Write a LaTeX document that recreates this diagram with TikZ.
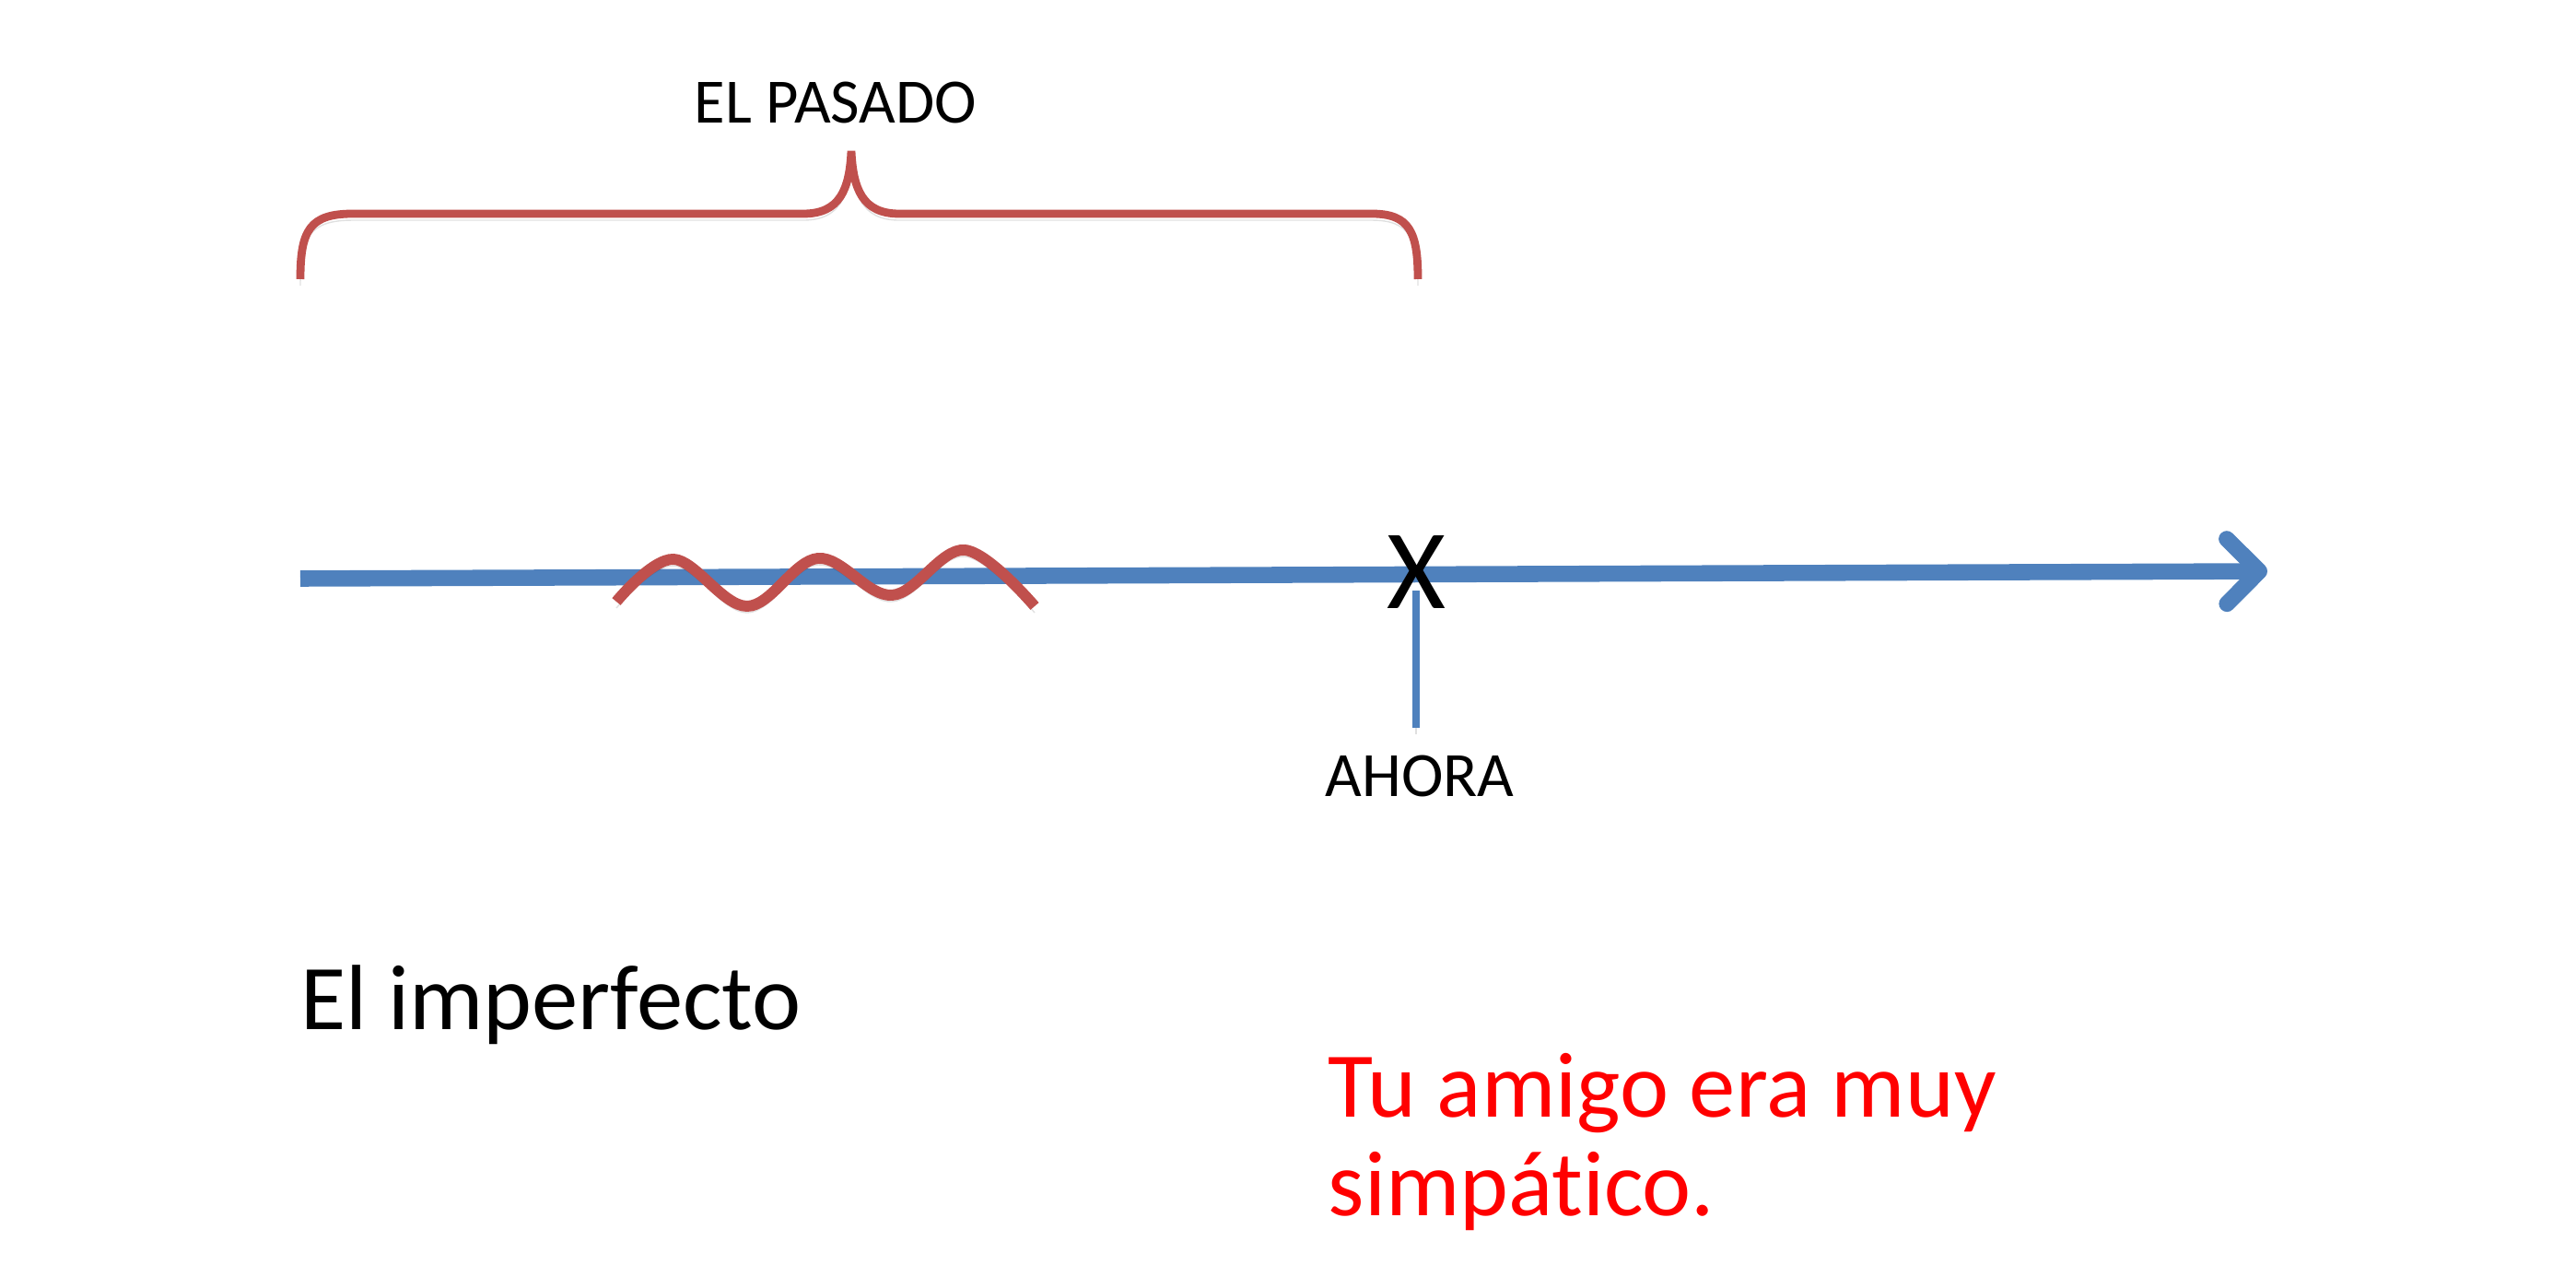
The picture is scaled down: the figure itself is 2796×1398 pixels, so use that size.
\documentclass[tikz,border=0pt]{standalone}
\usepackage{fontspec}
\setmainfont[Ligatures=NoCommon]{Carlito}
\usetikzlibrary{arrows.meta}

\definecolor{lineblue}{HTML}{4F81BD}
\definecolor{bracered}{HTML}{C0504D}
\definecolor{textred}{HTML}{FF0000}

\tikzset{
    shadowed/.style={preaction={draw=black, draw opacity=0.12, transform canvas={yshift=-2pt}}},
    label/.style={inner sep=0pt, font=\fontsize{19.5}{22}\selectfont},
    bigtext/.style={inner sep=0pt, align=left, font=\fontsize{28.6}{30.5}\selectfont},
}

\begin{document}
\begin{tikzpicture}[x=0.01cm, y=-0.01cm, >={Straight Barb[length=10pt, width=20pt, round]}]
    \useasboundingbox (0,0) rectangle (2796,1398);

    % time line
    \coordinate (past) at (326,628);
    \coordinate (future) at (2461,620);
    \draw[->, line width=5pt, lineblue, shadowed] (past) -- (future);

    % the past, as a brace
    \draw[bracered, line width=2.5pt, shadowed]
        (326,303) .. controls (326,250) and (336,232) .. (383,232) -- (872,232)
        .. controls (912,232) and (922,205) .. (924,164)
        .. controls (926,205) and (936,232) .. (976,232) -- (1489,232)
        .. controls (1530,232) and (1539,252) .. (1539,303);
    \node[label] (pasado) at (907,111) {EL PASADO};

    % ongoing action
    \draw[bracered, line width=3.4pt, shadowed] plot[smooth, tension=0.6] coordinates
        {(669,653) (731,607) (811,658) (888,606) (968,646) (1047,597) (1123,658)};

    % now
    \node[inner sep=0pt, font=\fontsize{35}{35}\selectfont] (xmark) at (1537,621) {X};
    \node[label] (ahora) at (1541,865) [anchor=base] {AHORA};
    \draw[lineblue, line width=2pt, shadowed] ([yshift=-0.2cm]xmark.center)
        -- ([yshift=0.3cm]xmark |- ahora.north);

    \node[bigtext, anchor=base west] (tense) at (326,1118) {El imperfecto};
    \node[bigtext, anchor=base west, text=textred] (example) at (1441,1320)
        {Tu amigo era muy\\simpático.};
\end{tikzpicture}
\end{document}
